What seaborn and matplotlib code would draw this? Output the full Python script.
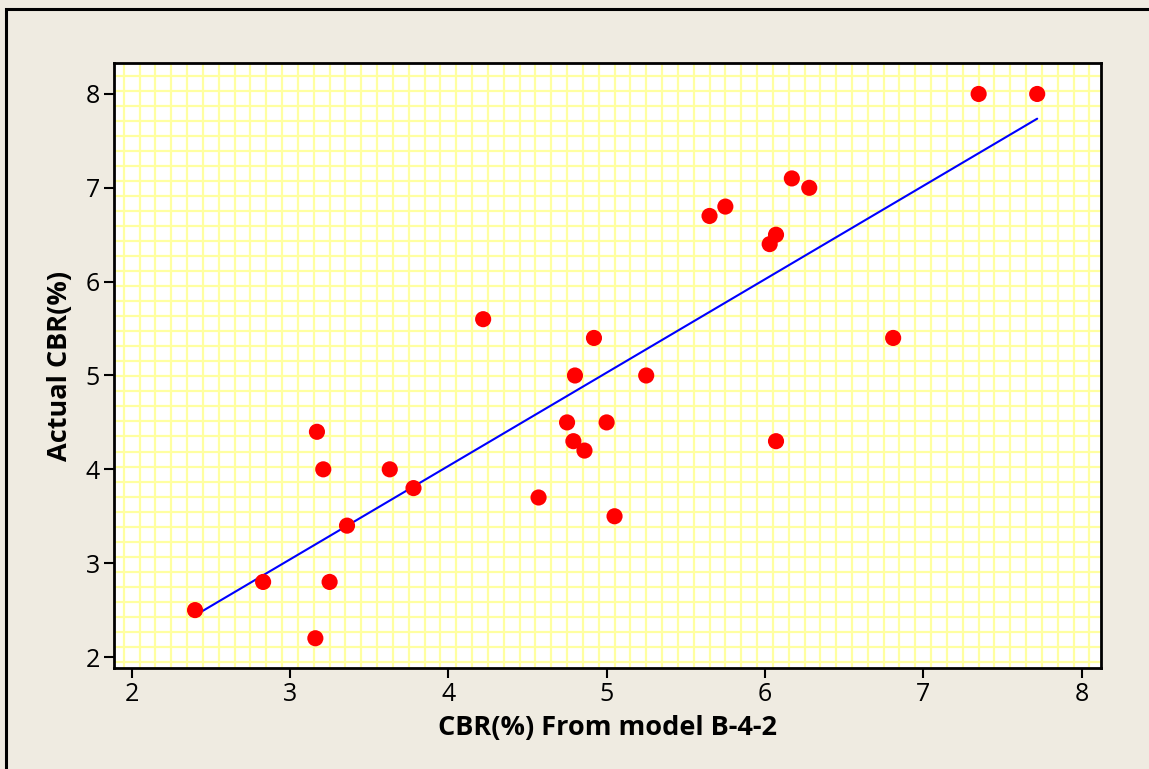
import numpy as np
import pandas as pd
import matplotlib
matplotlib.use("Agg")
import matplotlib.pyplot as plt
import seaborn as sns
from matplotlib.patches import Rectangle

# Data
cbr_model = [2.40, 2.83, 3.17, 3.21, 3.16, 3.25, 3.36, 3.63, 3.78, 4.22,
             4.57, 4.75, 4.79, 4.80, 4.86, 4.92, 5.00, 5.05, 5.25, 5.65,
             5.75, 6.03, 6.07, 6.07, 6.17, 6.28, 6.81, 7.35, 7.72]
cbr_actual = [2.5, 2.8, 4.4, 4.0, 2.2, 2.8, 3.4, 4.0, 3.8, 5.6,
              3.7, 4.5, 4.3, 5.0, 4.2, 5.4, 4.5, 3.5, 5.0, 6.7,
              6.8, 6.4, 6.5, 4.3, 7.1, 7.0, 5.4, 8.0, 8.0]
x_ticks = [2, 3, 4, 5, 6, 7, 8]
y_ticks = [2, 3, 4, 5, 6, 7, 8]
x_label = "CBR(%) From model B-4-2"
y_label = "Actual CBR(%)"

df = pd.DataFrame({"model": cbr_model, "actual": cbr_actual})

sns.set_theme(style="white")
plt.rcParams["font.family"] = ["Open Sans", "DejaVu Sans"]

fig = plt.figure(figsize=(11.49, 7.69), dpi=100)
fig.patch.set_facecolor("#efebe1")
W, H = 1149, 769
ax = fig.add_axes([114 / W, 1 - 668 / H, (1101 - 114) / W, (668 - 63) / H])
ax.set_facecolor("white")

# frame of the figure (top-left corner visible)
fig.patches.append(Rectangle((6 / W, -0.1), 1.2, 1 - 9 / H + 0.1,
                             transform=fig.transFigure, fill=False,
                             edgecolor="black", linewidth=2.2, zorder=0))

ax.set_xlim(1.888, 8.123)
ax.set_ylim(1.883, 8.33)

# yellow grid
ax.set_xticks(np.arange(1.95, 8.13, 0.1), minor=True)
ax.set_yticks(np.arange(1.95, 8.33, 0.16), minor=True)
ax.grid(which="minor", color="#ffffa0", linewidth=1.6)
ax.grid(which="major", visible=False)
ax.set_axisbelow(True)

sns.regplot(data=df, x="model", y="actual", ax=ax, ci=None, truncate=True,
            scatter_kws=dict(s=135, color="#ff0000", edgecolor="none", zorder=3, alpha=1),
            line_kws=dict(color="#0000ff", linewidth=1.5, zorder=2))

ax.set_xticks(x_ticks)
ax.set_yticks(y_ticks)
ax.set_xticklabels([str(t) for t in x_ticks])
ax.set_yticklabels([str(t) for t in y_ticks])
ax.tick_params(axis="both", which="major", direction="out", length=7, width=1.5,
               color="black", labelsize=18, labelcolor="black", pad=3,
               bottom=True, left=True)
ax.tick_params(axis="both", which="minor", length=0)

for s in ax.spines.values():
    s.set_color("black")
    s.set_linewidth(2)

ax.set_xlabel(x_label, fontsize=19.5, fontweight="bold", color="black", labelpad=6)
ax.set_ylabel(y_label, fontsize=19.5, fontweight="bold", color="black", labelpad=9)

fig.savefig("out.png", dpi=100, facecolor=fig.get_facecolor())
